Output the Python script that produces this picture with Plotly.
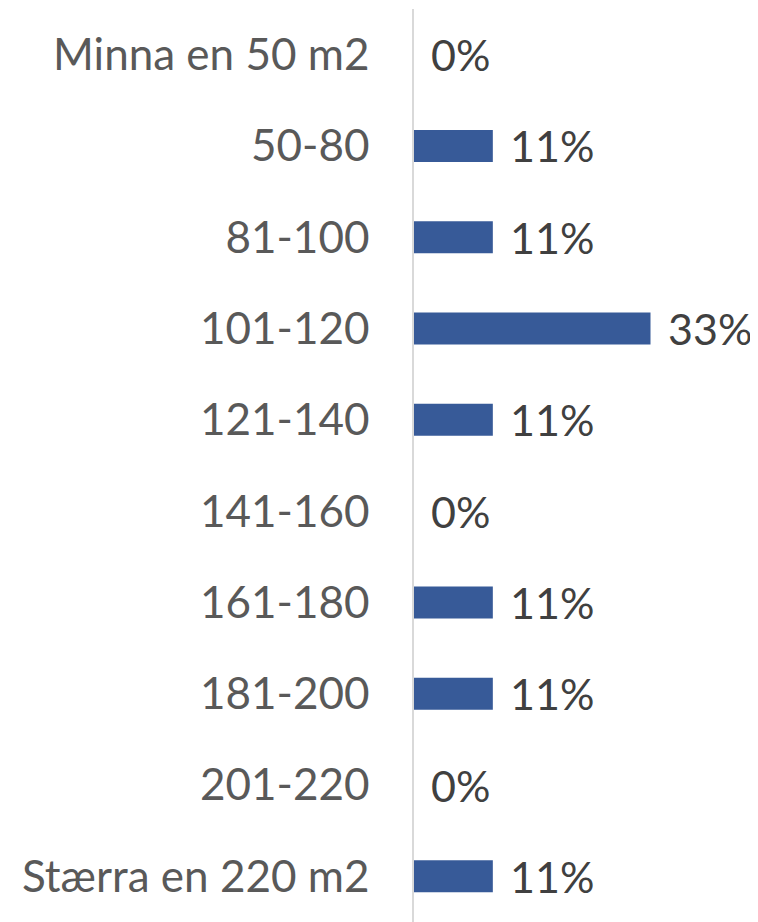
import plotly.graph_objects as go

categories = ["Minna en 50 m2", "50-80", "81-100", "101-120", "121-140",
              "141-160", "161-180", "181-200", "201-220", "Stærra en 220 m2"]
values = [0, 11, 11, 33, 11, 0, 11, 11, 0, 11]
value_labels = [f"{v}%" for v in values]

FONT = "Lato, 'Open Sans', sans-serif"

fig = go.Figure()
fig.add_trace(go.Bar(
    x=values, y=categories, orientation="h",
    marker=dict(color="#375A98", line=dict(width=0)),
    hoverinfo="skip", cliponaxis=False,
))

for c, v, t in zip(categories, values, value_labels):
    fig.add_annotation(
        x=v, y=c, text=t, showarrow=False, xanchor="left", yanchor="middle",
        xshift=15, font=dict(family=FONT, size=43, color="#404040"),
    )

# page body has an 8px default margin, so the figure is sized to fit the window
fig.update_layout(
    width=750, height=914,
    margin=dict(l=406, r=0, t=1, b=0, autoexpand=False),
    paper_bgcolor="white", plot_bgcolor="white",
    bargap=0.65, showlegend=False,
    font=dict(family=FONT, size=43, color="#595959"),
)
fig.update_xaxes(range=[0, 48], showgrid=False, zeroline=False, automargin=False,
                 showticklabels=False, showline=False, fixedrange=True)
fig.update_yaxes(autorange="reversed", showgrid=False, zeroline=False,
                 automargin=False,
                 showline=True, linecolor="#D9D9D9", linewidth=1.5,
                 ticks="", ticklabelstandoff=34,
                 tickfont=dict(family=FONT, size=44, color="#595959"))

fig.write_html("out.html")
